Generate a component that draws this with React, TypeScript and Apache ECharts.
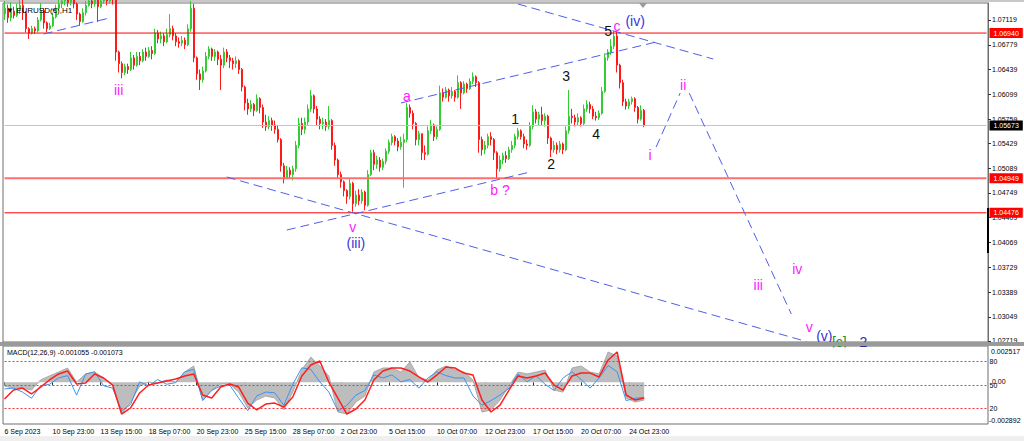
import React, { useEffect, useRef } from "react";
import * as echarts from "echarts";

const FONT = '"Liberation Sans", Arial, sans-serif';

// ---------- axes ----------
const slotCount = 328;
const labelEvery = 16;
const timeLabels = [
  "6 Sep 2023", "10 Sep 23:00", "13 Sep 15:00", "18 Sep 07:00", "20 Sep 23:00",
  "25 Sep 15:00", "28 Sep 07:00", "2 Oct 23:00", "5 Oct 15:00", "10 Oct 07:00",
  "12 Oct 23:00", "17 Oct 15:00", "20 Oct 07:00", "24 Oct 23:00",
];
const priceTicks = [
  1.07119, 1.06779, 1.06439, 1.06099, 1.05759, 1.05429, 1.05089,
  1.04749, 1.04409, 1.04069, 1.03729, 1.03389, 1.03049, 1.02719,
];
const priceMin = 1.02705;
const priceMax = 1.07352;

// ---------- price candles (pips above 1.0000) ----------
const firstOpen = 720;
const closes = [
  728, 715, 724, 718, 726, 732, 722, 700, 694, 700,
  697, 712, 725, 708, 700, 704, 716, 728, 734, 738,
  742, 736, 740, 734, 720, 710, 722, 732, 738, 734,
  740, 730, 738, 742, 738, 744, 740, 668, 652, 640,
  648, 644, 660, 650, 662, 656, 668, 662, 670, 666,
  694, 686, 690, 682, 692, 700, 690, 682, 680, 684,
  678, 700, 728, 660, 638, 630, 642, 662, 672, 662,
  668, 658, 650, 668, 660, 656, 652, 656, 644, 620,
  598, 590, 596, 588, 604, 592, 572, 566, 574, 568,
  562, 548, 512, 494, 506, 500, 508, 540, 570, 562,
  572, 590, 608, 590, 576, 570, 572, 566, 574, 540,
  520, 500, 490, 478, 470, 488, 460, 472, 464, 476,
  458, 500, 530, 514, 520, 510, 518, 532, 544, 552,
  546, 538, 544, 548, 592, 584, 570, 548, 556, 530,
  528, 560, 568, 552, 562, 612, 606, 616, 608, 614,
  606, 626, 612, 624, 618, 628, 634, 626, 548, 534,
  540, 552, 548, 530, 508, 520, 526, 522, 534, 540,
  552, 560, 552, 542, 540, 566, 586, 576, 582, 574,
  580, 550, 534, 540, 534, 542, 534, 560, 580, 578,
  572, 578, 570, 590, 596, 590, 580, 578, 584, 614,
  660, 668, 676, 690, 650, 626, 600, 594, 600, 604,
  592, 576, 588, 567.3,
];
const lows = [
  712, 708, 710, 714, 716, 720, 712, 695, 686, 692,
  693, 695, 710, 700, 695, 698, 702, 714, 725, 728,
  732, 730, 732, 728, 712, 704, 708, 718, 730, 728,
  730, 709, 728, 734, 732, 734, 733, 656, 640, 632,
  636, 638, 642, 644, 648, 650, 654, 656, 660, 658,
  664, 680, 680, 676, 680, 688, 684, 676, 674, 676,
  672, 676, 696, 654, 630, 616, 626, 640, 658, 656,
  656, 650, 616, 646, 654, 646, 644, 646, 638, 614,
  588, 582, 586, 580, 586, 584, 564, 560, 562, 560,
  556, 544, 504, 488, 494, 494, 492, 504, 536, 554,
  556, 568, 586, 584, 568, 562, 562, 560, 562, 534,
  512, 494, 482, 470, 460, 466, 449, 456, 458, 460,
  451, 456, 498, 506, 508, 504, 506, 514, 528, 540,
  540, 532, 534, 482, 544, 578, 562, 540, 540, 520,
  520, 526, 556, 546, 548, 560, 600, 604, 600, 604,
  600, 604, 590, 610, 612, 616, 624, 620, 530, 526,
  528, 536, 540, 520, 495, 504, 514, 516, 520, 530,
  536, 548, 548, 536, 534, 538, 562, 570, 568, 568,
  566, 542, 524, 530, 528, 530, 528, 532, 556, 570,
  566, 568, 566, 568, 586, 584, 576, 574, 575, 582,
  612, 656, 664, 672, 640, 618, 594, 589, 590, 596,
  586, 570, 574, 565,
];
const highs = [
  738, 733, 736, 730, 734, 742, 740, 724, 702, 704,
  703, 716, 735, 728, 710, 708, 722, 733, 740, 745,
  750, 748, 746, 742, 736, 722, 728, 738, 745, 742,
  746, 742, 746, 750, 748, 752, 750, 742, 670, 655,
  652, 652, 668, 664, 668, 668, 672, 674, 675, 676,
  700, 698, 696, 694, 700, 720, 704, 694, 688, 690,
  688, 706, 738, 734, 662, 644, 648, 668, 676, 674,
  672, 670, 664, 674, 672, 664, 660, 662, 658, 646,
  622, 604, 602, 598, 610, 606, 596, 582, 580, 578,
  574, 568, 550, 516, 512, 510, 512, 546, 578, 578,
  578, 596, 616, 610, 594, 580, 578, 576, 594, 576,
  544, 522, 504, 492, 480, 494, 490, 478, 480, 480,
  478, 506, 534, 534, 526, 524, 522, 536, 548, 556,
  554, 550, 552, 556, 598, 596, 588, 572, 560, 556,
  540, 566, 575, 570, 566, 622, 618, 620, 618, 620,
  616, 636, 628, 628, 626, 632, 640, 636, 628, 552,
  546, 556, 558, 550, 532, 526, 530, 532, 538, 546,
  556, 564, 562, 556, 548, 572, 595, 590, 586, 593,
  584, 582, 552, 546, 544, 546, 544, 566, 616, 590,
  582, 584, 580, 596, 602, 600, 594, 586, 588, 620,
  666, 672, 686, 697, 696, 652, 630, 604, 604, 607,
  606, 594, 595, 590,
];

// ---------- horizontal levels ----------
const redLevels = [1.0694, 1.04949, 1.04476];
const lastPrice = 1.05673;

// ---------- trend lines [candle index, price] ----------
const trendLines = [
  [[13, 1.06927], [35, 1.07146]],
  [[171, 1.07338], [236, 1.06584]],
  [[132, 1.05981], [217, 1.06817]],
  [[94, 1.0424], [175, 1.05035]],
  [[74, 1.04967], [267, 1.02712]],
  [[217, 1.05378], [225, 1.06118]],
  [[228, 1.06118], [262, 1.03089]],
];

// ---------- wave labels: text, candle index, price, tone ----------
const waveLabels = [
  ["iii", 38, 1.06159, "m"],
  ["v", 116, 1.04282, "m"],
  ["(iii)", 117, 1.04062, "b"],
  ["a", 134, 1.06077, "m"],
  ["b ?", 165, 1.04789, "m"],
  ["1", 170, 1.05762, "k"],
  ["2", 182, 1.05145, "k"],
  ["3", 187, 1.06351, "k"],
  ["4", 197, 1.05556, "k"],
  ["5", 201, 1.06968, "k"],
  ["c", 204, 1.07037, "m"],
  ["(iv)", 210, 1.07105, "b"],
  ["i", 215, 1.05269, "m"],
  ["ii", 226, 1.06228, "m"],
  ["iii", 251, 1.03487, "m"],
  ["iv", 264, 1.03706, "m"],
  ["v", 268, 1.02911, "m"],
  ["(v)", 273, 1.02788, "b"],
  ["[c]", 278, 1.02746, "g"],
  ["2", 286, 1.02746, "n"],
];

// ---------- MACD panel (sampled every 3 candles) ----------
const macdStep = 3;
const macdMax = 0.002517;
const macdMin = -0.002892;
const macdHist = [
  -26, -40, -40, -54, 16, 44, 71, 99, 2, 58,
  71, 30, -12, -220, -137, -26, 2, -5, 16, 2,
  71, 113, -123, -54, -12, -12, -68, -178, -123, -95,
  -109, -192, -68, 85, 175, 113, 44, -206, -220, -137,
  -95, 71, 99, 99, 71, 141, 30, 16, 85, 113,
  85, 71, 16, -206, -192, -123, -26, 71, 58, 71,
  85, -54, -68, 99, 113, 71, 58, 210, 182, -109,
  -137, -123,
];
const macdSignal = [
  -116, -54, -40, -81, -33, 16, 58, 78, -12, -5,
  58, 30, -19, -220, -178, -74, -19, -5, 9, 23,
  44, 58, -88, -109, -33, -12, -33, -144, -192, -151,
  -144, -172, -102, 44, 120, 148, 2, -109, -220, -185,
  -123, 16, 78, 99, 99, 78, 37, 2, 51, 106,
  99, 64, 51, -123, -206, -158, -54, 44, 30, 44,
  64, -19, -54, 44, 64, 64, 37, 155, 210, -88,
  -123, -109,
];
const oscValues = [
  45, 46, 41, 33, 49, 51, 59, 62, 37, 64,
  67, 49, 46, 17, 25, 54, 49, 57, 51, 53,
  67, 70, 30, 43, 49, 50, 33, 17, 36, 41,
  40, 24, 51, 72, 70, 54, 41, 17, 24, 37,
  43, 63, 59, 63, 54, 57, 46, 59, 67, 62,
  59, 59, 36, 24, 30, 37, 46, 64, 54, 62,
  51, 43, 59, 67, 57, 46, 59, 75, 67, 30,
  33, 34,
];
const oscLevels = [80, 50, 20];

const toneColor: Record<string, string> = {
  m: "#ff1aff",
  b: "#3535d8",
  k: "#111111",
  g: "#1f8f1f",
  n: "#2a2aa8",
};

function buildOption() {
  const toPrice = (p: number) => +(1 + p / 10000).toFixed(5);
  const opens = closes.map((c, i) => (i === 0 ? firstOpen : closes[i - 1]));
  const candleData = closes.map((c, i) =>
    [opens[i], c, lows[i], highs[i]].map(toPrice)
  );
  const slots = Array.from({ length: slotCount }, (_, i) => String(i));
  const isLabelSlot = (i: number) =>
    i % labelEvery === 0 && i / labelEvery < timeLabels.length;

  const levelSeries = (v: number, color: string, width: number, labelBg: string) => ({
    type: "line",
    xAxisIndex: 0,
    yAxisIndex: 0,
    silent: true,
    z: 3,
    data: [[0, v], [slotCount - 1, v]],
    symbol: "none",
    lineStyle: { color, width, type: "solid" },
    itemStyle: { color },
    endLabel: {
      show: true,
      distance: 3,
      formatter: () => v.toFixed(5),
      backgroundColor: labelBg,
      color: "#ffffff",
      padding: [2, 4, 1, 4],
      fontSize: 7,
      fontFamily: FONT,
    },
  });

  const trendItems = trendLines.map(([a, b]) => [{ coord: a }, { coord: b }]);

  const clippedTexts = new Set(["[c]", "2"]);
  const markPoints = waveLabels.map(([text, idx, price, tone]) => ({
    coord: [idx, price],
    label: {
      show: true,
      formatter: text as string,
      color: toneColor[tone as string],
      fontSize: 14,
      fontFamily: FONT,
      offset: clippedTexts.has(text as string) && (price as number) < 1.028 ? [0, 3] : [0, 0],
    },
  }));

  const sample = (arr: number[], scale: number) =>
    arr.map((v, j) => [j * macdStep, v * scale]);

  return {
    animation: false,
    backgroundColor: "#ffffff",
    grid: [
      {
        left: 3, right: 36, top: 3, height: 339,
        show: true, borderColor: "#6e6e6e", borderWidth: 1,
        containLabel: false, outerBoundsMode: "none",
      },
      {
        left: 3, right: 36, top: 346, height: 78,
        show: true, borderColor: "#6e6e6e", borderWidth: 1,
        containLabel: false, outerBoundsMode: "none",
      },
    ],
    xAxis: [
      {
        type: "category", gridIndex: 0, data: slots, boundaryGap: true,
        show: false,
      },
      {
        type: "category", gridIndex: 1, data: slots, boundaryGap: true,
        axisLine: { show: false },
        splitLine: { show: false },
        axisTick: {
          show: true, alignWithLabel: true, length: 3,
          interval: (i: number) => isLabelSlot(i),
          lineStyle: { color: "#333333" },
        },
        axisLabel: {
          interval: (i: number) => isLabelSlot(i),
          formatter: (_v: string, i: number) => timeLabels[i / labelEvery] || "",
          align: "left",
          fontSize: 7,
          fontFamily: FONT,
          color: "#000000",
          margin: 4,
        },
      },
    ],
    yAxis: [
      {
        type: "value", gridIndex: 0, position: "right",
        min: priceMin, max: priceMax,
        splitLine: { show: false },
        axisLine: { show: true, lineStyle: { color: "#6e6e6e" } },
        axisTick: {
          show: true, length: 3, customValues: priceTicks,
          lineStyle: { color: "#333333" },
        },
        axisLabel: {
          customValues: priceTicks,
          formatter: (v: number) => v.toFixed(5),
          fontSize: 7,
          fontFamily: FONT,
          color: "#000000",
          margin: 4,
        },
      },
      { type: "value", gridIndex: 1, min: macdMin, max: macdMax, show: false, splitLine: { show: false } },
      { type: "value", gridIndex: 1, min: 0, max: 100, show: false, splitLine: { show: false } },
    ],
    series: [
      levelSeries(lastPrice, "#c4c4c4", 1, "#000000"),
      levelSeries(redLevels[0], "#ff0000", 1, "#ff0000"),
      levelSeries(redLevels[1], "#ff6f6f", 2, "#ff0000"),
      levelSeries(redLevels[2], "#ff0000", 1, "#ff0000"),
      {
        type: "candlestick",
        xAxisIndex: 0,
        yAxisIndex: 0,
        data: candleData,
        barWidth: 1.5,
        clip: true,
        z: 2,
        itemStyle: {
          color: "#34cc34",
          color0: "#ff1a1a",
          borderColor: "#34cc34",
          borderColor0: "#ff1a1a",
          borderWidth: 1,
        },
        markLine: {
          silent: true,
          symbol: ["none", "none"],
          lineStyle: { color: "#4f5fe8", width: 1, type: [9, 5] },
          label: { show: false },
          data: trendItems,
        },
        markPoint: {
          silent: true,
          symbol: "circle",
          symbolSize: 1,
          itemStyle: { color: "rgba(0,0,0,0)" },
          data: markPoints,
        },
      },
      {
        type: "line",
        xAxisIndex: 1,
        yAxisIndex: 1,
        data: sample(macdHist, 1e-5),
        symbol: "none",
        lineStyle: { color: "#a9a9a9", width: 1 },
        areaStyle: { color: "#bdbdbd", opacity: 1 },
      },
      {
        type: "line",
        xAxisIndex: 1,
        yAxisIndex: 2,
        data: sample(oscValues, 1),
        symbol: "none",
        lineStyle: { color: "#3a94f0", width: 1 },
        markLine: {
          silent: true,
          symbol: ["none", "none"],
          lineStyle: { color: "#ff3030", width: 1, type: [2, 2] },
          label: {
            show: true, position: "end", distance: 3,
            fontSize: 7, fontFamily: FONT, color: "#000000",
          },
          data: oscLevels.map((v) => [
            { coord: [0, v], label: { formatter: String(v) } },
            { coord: [slotCount - 1, v], label: { formatter: String(v) } },
          ]),
        },
      },
      {
        type: "line",
        xAxisIndex: 1,
        yAxisIndex: 1,
        data: sample(macdSignal, 1e-5),
        symbol: "none",
        lineStyle: { color: "#ff1e1e", width: 1.5 },
      },
    ],
    graphic: [
      { type: "rect", shape: { x: 0, y: 0, width: 1024, height: 2 }, style: { fill: "#c8c8c8" }, silent: true },
      { type: "rect", z: 100, shape: { x: 0, y: 342, width: 1024, height: 4 }, style: { fill: "#9a9a9a" }, silent: true },
      { type: "rect", z: 100, shape: { x: 790, y: 347.5, width: 110, height: 10 }, style: { fill: "#ffffff" }, silent: true },
      { type: "rect", shape: { x: 0, y: 436, width: 1024, height: 5 }, style: { fill: "#efefef" }, silent: true },
      {
        type: "text", z: 50, x: 6, y: 10, silent: true,
        style: { text: "▼ EURUSD(€),H1", fill: "#000000", fontSize: 8, fontFamily: FONT, verticalAlign: "middle" },
      },
      {
        type: "text", z: 50, x: 7, y: 352, silent: true,
        style: { text: "MACD(12,26,9) -0.001055 -0.001073", fill: "#000000", fontSize: 7, fontFamily: FONT, verticalAlign: "middle" },
      },
      {
        type: "text", z: 50, x: 991, y: 351, silent: true,
        style: { text: macdMax.toFixed(6), fill: "#000000", fontSize: 7, fontFamily: FONT, verticalAlign: "middle" },
      },
      {
        type: "text", z: 50, x: 992, y: 381, silent: true,
        style: { text: "0.00", fill: "#000000", fontSize: 7, fontFamily: FONT, verticalAlign: "middle" },
      },
      {
        type: "text", z: 50, x: 989, y: 420, silent: true,
        style: { text: macdMin.toFixed(6), fill: "#000000", fontSize: 7, fontFamily: FONT, verticalAlign: "middle" },
      },
      {
        type: "polygon", z: 50, silent: true,
        shape: { points: [[639, 3], [647, 3], [643, 8]] },
        style: { fill: "#9a9a9a" },
      },
      {
        type: "rect", z: 50, silent: true,
        shape: { x: 987, y: 208, width: 2, height: 45 },
        style: { fill: "#000000" },
      },
    ],
  };
}

export default function App() {
  const ref = useRef<HTMLDivElement>(null);
  useEffect(() => {
    document.body.style.margin = "0";
    const chart = echarts.init(ref.current as HTMLDivElement, null, { renderer: "svg" });
    chart.setOption(buildOption() as any);
    return () => chart.dispose();
  }, []);
  return <div ref={ref} style={{ width: 1024, height: 441 }} />;
}
